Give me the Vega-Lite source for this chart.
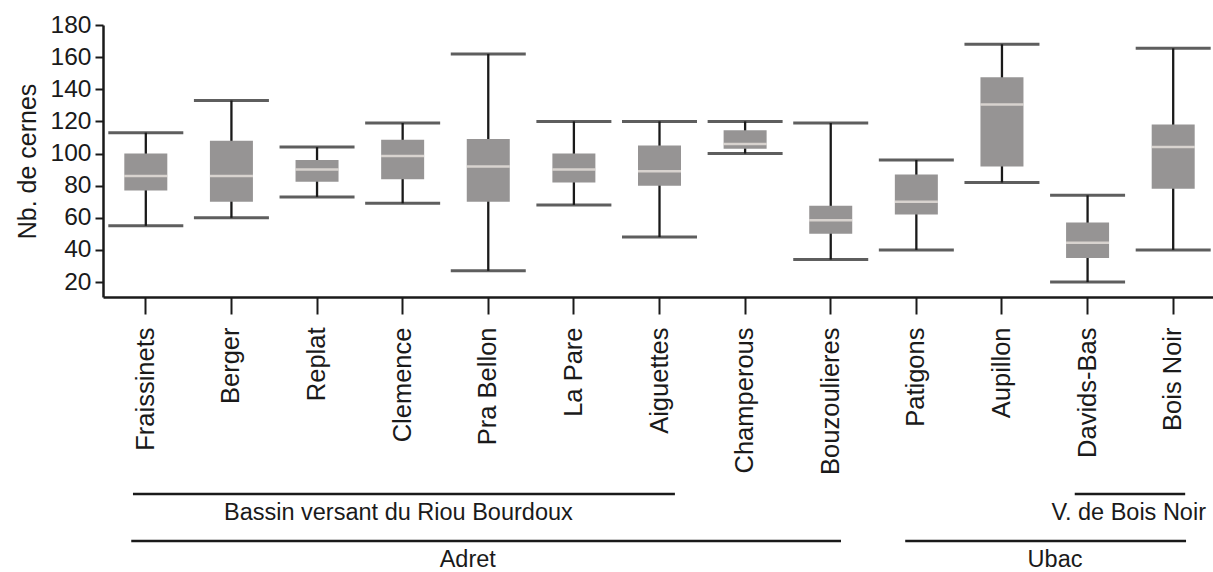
{
  "$schema": "https://vega.github.io/schema/vega-lite/v6.json",
  "width": 1110,
  "height": 272,
  "autosize": "none",
  "padding": {"left": 103, "top": 25, "right": 0, "bottom": 275},
  "background": "white",
  "config": {
    "view": {"stroke": null},
    "font": "Liberation Sans",
    "axis": {"grid": false, "domainColor": "#1a1a1a", "tickColor": "#1a1a1a", "labelColor": "#1a1a1a", "titleColor": "#1a1a1a", "domainWidth": 2.5, "tickWidth": 2},
    "axisY": {"labelOverlap": false, "tickSize": 8, "labelFontSize": 24.5, "labelPadding": 4, "titleFontSize": 25, "titleFontWeight": "normal", "titlePadding": 10}
  },
  "datasets": {
    "sites": [
      {"site": "Fraissinets", "min": 55, "q1": 77, "median": 86, "q3": 100, "max": 113},
      {"site": "Berger", "min": 60, "q1": 70, "median": 86, "q3": 108, "max": 133},
      {"site": "Replat", "min": 73, "q1": 82.5, "median": 90, "q3": 96, "max": 104},
      {"site": "Clemence", "min": 69, "q1": 84, "median": 98.5, "q3": 108.5, "max": 119},
      {"site": "Pra Bellon", "min": 27, "q1": 70, "median": 92, "q3": 109, "max": 162},
      {"site": "La Pare", "min": 68, "q1": 82, "median": 90, "q3": 100, "max": 120},
      {"site": "Aiguettes", "min": 48, "q1": 80, "median": 89, "q3": 105, "max": 120},
      {"site": "Champerous", "min": 100, "q1": 103, "median": 106, "q3": 114.5, "max": 120},
      {"site": "Bouzoulieres", "min": 34, "q1": 50, "median": 58.5, "q3": 67.5, "max": 119},
      {"site": "Patigons", "min": 40, "q1": 62, "median": 70, "q3": 87, "max": 96},
      {"site": "Aupillon", "min": 82, "q1": 92, "median": 130.5, "q3": 147.5, "max": 168},
      {"site": "Davids-Bas", "min": 20, "q1": 35, "median": 44.5, "q3": 57, "max": 74},
      {"site": "Bois Noir", "min": 40, "q1": 78, "median": 104, "q3": 118, "max": 165.5}
    ],
    "groups": [
      {"name": "Bassin versant du Riou Bourdoux", "row": 1, "start": -0.15, "end": 6.18, "label_at": 2.95},
      {"name": "V. de Bois Noir", "row": 1, "start": 10.85, "end": 12.14, "label_at": 11.48},
      {"name": "Adret", "row": 2, "start": -0.17, "end": 8.12, "label_at": 3.76},
      {"name": "Ubac", "row": 2, "start": 8.87, "end": 12.15, "label_at": 10.62}
    ]
  },
  "layer": [
    {
      "data": {"name": "sites"},
      "encoding": {
        "x": {
          "field": "site", "type": "nominal", "sort": null,
          "scale": {"type": "band", "range": [0, 1113], "paddingInner": 0, "paddingOuter": 0},
          "axis": {"title": null, "labelAngle": -90, "labelFontSize": 25.5, "tickSize": 17, "labelPadding": 13, "labelOverlap": false, "labelLimit": 300}
        }
      },
      "layer": [
        {
          "mark": {"type": "rule", "color": "#1a1a1a", "strokeWidth": 2.3},
          "encoding": {
            "y": {"field": "min", "type": "quantitative", "title": "Nb. de cernes",
              "scale": {"domain": [10.7, 180], "nice": false, "zero": false},
              "axis": {"values": [20, 40, 60, 80, 100, 120, 140, 160, 180], "labelOverlap": false}},
            "y2": {"field": "max"}
          }
        },
        {
          "mark": {"type": "bar", "color": "#969494", "width": 43},
          "encoding": {
            "y": {"field": "q1", "type": "quantitative", "title": "Nb. de cernes", "axis": {"values": [20, 40, 60, 80, 100, 120, 140, 160, 180], "labelOverlap": false}},
            "y2": {"field": "q3"}
          }
        },
        {
          "mark": {"type": "tick", "color": "#f4eee8", "size": 43, "thickness": 2.5},
          "encoding": {"y": {"field": "median", "type": "quantitative", "title": "Nb. de cernes", "axis": {"values": [20, 40, 60, 80, 100, 120, 140, 160, 180], "labelOverlap": false}}}
        },
        {
          "mark": {"type": "tick", "color": "#1a1a1a", "size": 75, "thickness": 3},
          "encoding": {"y": {"field": "min", "type": "quantitative", "title": "Nb. de cernes", "axis": {"values": [20, 40, 60, 80, 100, 120, 140, 160, 180], "labelOverlap": false}}}
        },
        {
          "mark": {"type": "tick", "color": "#1a1a1a", "size": 75, "thickness": 3},
          "encoding": {"y": {"field": "max", "type": "quantitative", "title": "Nb. de cernes", "axis": {"values": [20, 40, 60, 80, 100, 120, 140, 160, 180], "labelOverlap": false}}}
        }
      ]
    },
    {
      "data": {"name": "groups"},
      "layer": [
        {
          "mark": {"type": "rule", "color": "#1a1a1a", "strokeWidth": 2.5},
          "encoding": {
            "x": {"field": "start", "type": "quantitative", "scale": {"domain": [-0.5, 12.5], "range": [0, 1113], "nice": false, "zero": false}, "axis": null},
            "x2": {"field": "end"},
            "y": {"field": "row", "type": "ordinal", "scale": {"type": "point", "domain": [1, 2], "range": [469, 516], "padding": 0}, "axis": null}
          }
        },
        {
          "mark": {"type": "text", "color": "#1a1a1a", "fontSize": 23.5, "align": "center", "baseline": "alphabetic", "dy": 26},
          "encoding": {
            "x": {"field": "label_at", "type": "quantitative", "axis": null},
            "y": {"field": "row", "type": "ordinal", "axis": null},
            "text": {"field": "name"}
          }
        }
      ]
    }
  ],
  "resolve": {"scale": {"x": "independent", "y": "independent"}, "axis": {"x": "independent", "y": "independent"}}
}
